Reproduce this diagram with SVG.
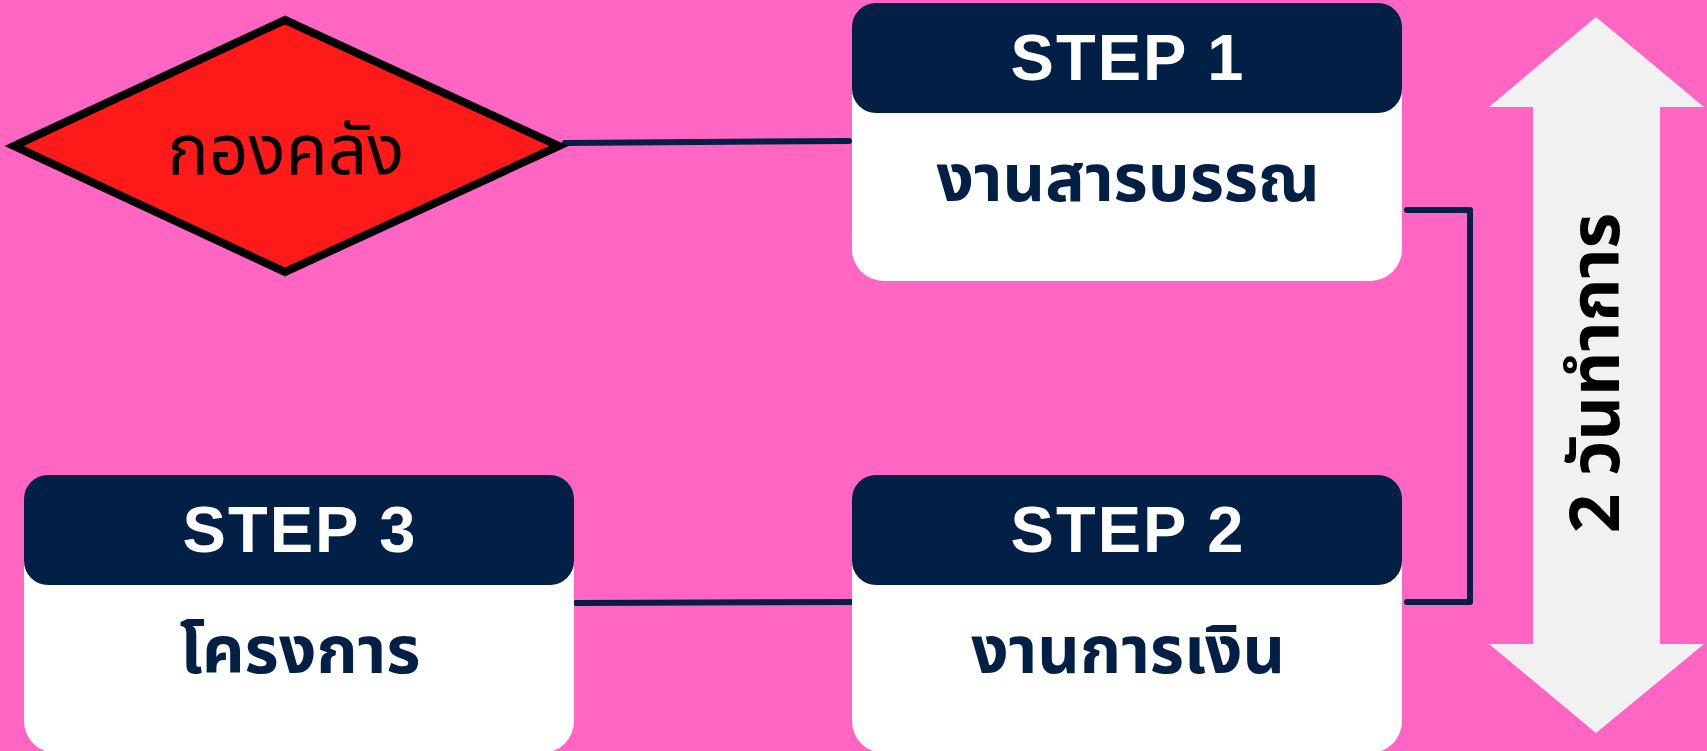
<svg xmlns="http://www.w3.org/2000/svg" width="1707" height="751" viewBox="0 0 1707 751">
<style>
.card{fill:#ffffff}
.head{fill:#021f46}
.step{font-family:"Liberation Sans",Arial,sans-serif;font-weight:bold;font-size:65px;letter-spacing:2px;fill:#ffffff;text-anchor:middle}
.thai{font-family:"Noto Sans Thai","Noto Sans",sans-serif;font-weight:bold;font-size:66px;fill:#021f46;text-anchor:middle}
.conn{fill:none;stroke:#021f46;stroke-width:6;stroke-linecap:round;stroke-linejoin:round}
</style>
<rect width="1707" height="751" fill="#ff66c4"/>
<g id="connectors">
<path class="conn" d="M565 143 L849 141"/>
<path class="conn" d="M1407 210 L1470 210 L1470 602 L1407 602"/>
<path class="conn" d="M862 602 L576 603"/>
</g>
<g id="node-kongklang">
<polygon points="14,146 285,20 559,146 285,272" fill="#ff1a1a" stroke="#000000" stroke-width="8" stroke-linejoin="miter"/>
<text x="286" y="174" font-family="'Noto Sans Thai','Noto Sans',sans-serif" font-size="69" fill="#000000" text-anchor="middle">กองคลัง</text>
</g>
<g id="node-step1">
<rect class="card" x="852" y="3" width="550" height="278" rx="32"/>
<rect class="head" x="852" y="3" width="550" height="110" rx="24"/>
<text class="step" x="1128" y="80">STEP 1</text>
<text class="thai" x="1128" y="201">งานสารบรรณ</text>
</g>
<g id="node-step2">
<rect class="card" x="852" y="475" width="550" height="278" rx="32"/>
<rect class="head" x="852" y="475" width="550" height="110" rx="24"/>
<text class="step" x="1128" y="552">STEP 2</text>
<text class="thai" x="1128" y="673">งานการเงิน</text>
</g>
<g id="node-step3">
<rect class="card" x="24" y="475" width="550" height="278" rx="32"/>
<rect class="head" x="24" y="475" width="550" height="110" rx="24"/>
<text class="step" x="300" y="552">STEP 3</text>
<text class="thai" x="300" y="673">โครงการ</text>
</g>
<g id="node-duration">
<polygon points="1596,17 1704,107 1660,107 1660,644 1704,644 1596,733 1489,644 1533,644 1533,107 1489,107" fill="#f0f1f0"/>
<text transform="translate(1619,373) rotate(-90)" x="0" y="0" font-family="'Noto Sans Thai','Noto Sans',sans-serif" font-weight="bold" font-size="69" fill="#000000" text-anchor="middle">2 วันทำการ</text>
</g>
</svg>
